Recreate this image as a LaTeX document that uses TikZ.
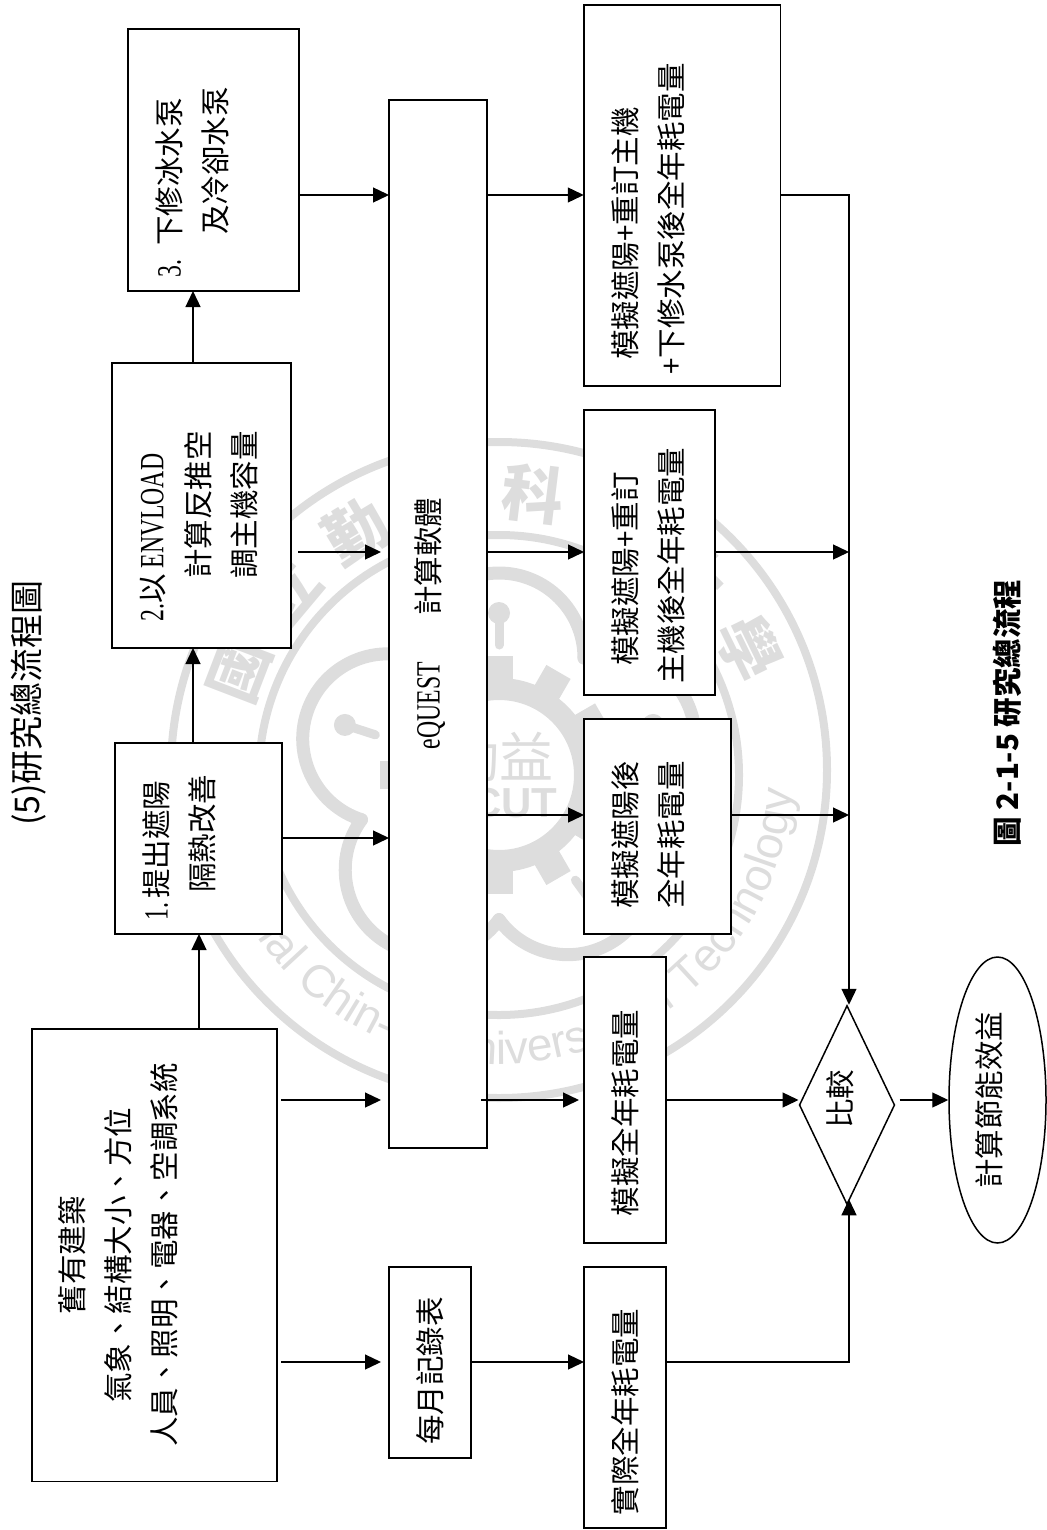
\documentclass[tikz,border=0pt]{standalone}
\usepackage{fontspec}
\setmainfont{Noto Sans CJK TC}
\setsansfont{Liberation Sans}
\newfontfamily\latinfont[Scale=1.15,FakeStretch=0.7]{Liberation Serif}
\usepackage{xcolor}
\definecolor{SealGray}{HTML}{DDDDDD}
\usetikzlibrary{arrows.meta,shapes.geometric,decorations.text,calc}

\begin{document}
\begin{tikzpicture}[
  x=1pt,y=1pt,
  >={Triangle[length=16pt,width=15pt]},
  flowbox/.style 2 args={draw,fill=white,line width=1.5pt,inner sep=0pt,outer sep=0pt,minimum width=#1pt,minimum height=#2pt},
  boxtext/.style={rotate=90,anchor=west,inner sep=0pt,align=left,font=\fontsize{29.5}{46}\selectfont},
  midtext/.style={boxtext,anchor=center,align=center},
  link/.style={line width=1.3pt},
  sealline/.style={draw=SealGray,line cap=round},
  sealtext/.style={text=SealGray,inner sep=0pt}
]
\useasboundingbox (0,0) rectangle (1046,-1530);

\begin{scope}[shift={(499,-775)}]
\draw[sealline,line width=8pt] (0,5) circle (328);
\draw[sealline,line width=8pt] (0,0) circle (240);
\foreach \ang in {18,90,162,234,306} {
  \draw[sealline,line width=13pt] (\ang:117) ++(\ang-90:85) arc[start angle=\ang-90,end angle=\ang+90,radius=85];
  \fill[SealGray] (\ang:162) circle (11);
  \draw[sealline,line width=9pt] (\ang:162) -- (\ang:130);
}
\draw[sealline,line width=22pt] (0,0) circle (86);
\foreach \ang in {0,30,...,330} {
  \fill[SealGray,rotate=\ang] (88,-14) rectangle (119,14);
}
\node[sealtext,font=\fontsize{54}{54}\selectfont] (sealname) at (0,18) {勤益};
\node[sealtext,font=\sffamily\bfseries\fontsize{42}{42}\selectfont] (sealabbr) at (0,-28) {NCUT};
\foreach \ch [count=\i from 0] in {國,立,勤,益,科,技,大,學} {
  \pgfmathsetmacro{\chang}{159-19*\i}
  \node[sealtext,font=\bfseries\fontsize{62}{62}\selectfont,rotate=\chang-90] (sealch\i) at ($(0,5)+(\chang:278)$) {\ch};
}
\path[decorate,decoration={text along path,text align=center,
  text={|\sffamily\fontsize{46}{46}\selectfont\color{SealGray}|National Chin-Yi University of Technology}}]
  (0,5) ++(190:294) arc[start angle=190,end angle=357,radius=294];
\end{scope}

\node[flowbox={171}{262}] (pump) at (213.5,-160) {};
\node[flowbox={179}{285}] (envload) at (201.5,-505.5) {};
\node[flowbox={167}{191}] (shading) at (198.5,-838.5) {};
\node[flowbox={245}{452.5}] (building) at (154.5,-1255) {};
\node[flowbox={98}{1048}] (equest) at (438,-624) {};
\node[flowbox={82}{191}] (monthly) at (430,-1362.5) {};
\node[flowbox={196.5}{381}] (simall) at (682,-195.5) {};
\node[flowbox={131}{285}] (simchiller) at (649.5,-552.5) {};
\node[flowbox={147}{215}] (simshade) at (657.5,-826.5) {};
\node[flowbox={82}{286}] (simbase) at (625,-1100) {};
\node[flowbox={82}{261}] (actual) at (625,-1397.5) {};
\node[diamond,draw,fill=white,line width=1.5pt,inner sep=0pt,minimum width=95.5pt,minimum height=199pt] (compare) at (847,-1105) {};
\node[ellipse,draw,fill=white,line width=1.5pt,inner sep=0pt,minimum width=97pt,minimum height=286pt] (benefit) at (997.5,-1100) {};

\node[boxtext] (pumptext) at (192.5,-278) {{\latinfont 3.}\hspace{14pt}下修冰水泵\\\hspace*{43pt}及冷卻水泵};
\node[boxtext] (envloadtext) at (199,-622) {{\latinfont 2.}以\hspace{6pt}{\latinfont ENVLOAD}\\\hspace*{43pt}計算反推空\\\hspace*{43pt}調主機容量};
\node[boxtext] (shadingtext) at (179.5,-921) {{\latinfont 1.}\hspace{4pt}提出遮陽\\\hspace*{28pt}隔熱改善};
\node[midtext] (buildingtext) at (118,-1255) {舊有建築\\氣象、結構大小、方位\\人員、照明、電器、空調系統};
\node[midtext] (equesttext) at (430,-623.5) {{\latinfont eQUEST}\hspace{46pt}計算軟體};
\node[midtext] (monthlytext) at (430,-1371) {每月記錄表};
\node[boxtext] (simalltext) at (648,-375) {\hspace*{15pt}模擬遮陽+重訂主機\\+下修水泵後全年耗電量};
\node[boxtext] (simchillertext) at (648,-684) {\hspace*{18pt}模擬遮陽+重訂\\主機後全年耗電量};
\node[midtext] (simshadetext) at (648,-835) {模擬遮陽後\\全年耗電量};
\node[midtext] (simbasetext) at (625,-1113) {模擬全年耗電量};
\node[midtext] (actualtext) at (625,-1412) {實際全年耗電量};
\node[midtext] (comparetext) at (840,-1099) {比較};
\node[midtext] (benefittext) at (989.5,-1100) {計算節能效益};
\node[midtext,font=\fontsize{34}{46}\selectfont] (pagetitle) at (28,-703) {(5)研究總流程圖};
\node[midtext,font=\bfseries\fontsize{29.5}{46}\selectfont] (caption) at (1007,-713) {圖 2-1-5 研究總流程};

\coordinate (rowa) at (0,-195);
\coordinate (rowb) at (0,-552);
\coordinate (rowc) at (0,-815);
\coordinate (rowd) at (0,-838);
\coordinate (rowe) at (0,-1100);
\coordinate (rowf) at (0,-1362);
\coordinate (trunk) at (849,0);
\coordinate (colup) at (193,0);
\coordinate (colold) at (199,0);

\draw[->,link] (building.north -| colold) -- (shading.south -| colold);
\draw[->,link] (shading.north -| colup) -- (envload.south -| colup);
\draw[->,link] (envload.north -| colup) -- (pump.south -| colup);
\draw[->,link] (pump.east |- rowa) -- (equest.west |- rowa);
\draw[->,link] ([xshift=7]envload.east |- rowb) -- ([xshift=-8]equest.west |- rowb);
\draw[->,link] (shading.east |- rowd) -- (equest.west |- rowd);
\draw[->,link] ([xshift=4]building.east |- rowe) -- ([xshift=-8]equest.west |- rowe);
\draw[->,link] ([xshift=4]building.east |- rowf) -- ([xshift=-8]monthly.west |- rowf);
\draw[->,link] (monthly.east |- rowf) -- (actual.west |- rowf);
\draw[->,link] (equest.east |- rowa) -- (simall.west |- rowa);
\draw[->,link] (equest.east |- rowb) -- (simchiller.west |- rowb);
\draw[->,link] (equest.east |- rowc) -- (simshade.west |- rowc);
\draw[->,link] ([xshift=-6]equest.east |- rowe) -- ([xshift=-5]simbase.west |- rowe);
\draw[->,link] (simall.east |- rowa) -| (trunk |- compare.north);
\draw[->,link] (simchiller.east |- rowb) -- (trunk |- rowb);
\draw[->,link] (simshade.east |- rowc) -- (trunk |- rowc);
\draw[->,link] (simbase.east |- rowe) -- (compare.west |- rowe);
\draw[->,link] (actual.east |- rowf) -| ([yshift=6]trunk |- compare.south);
\draw[->,link] ([xshift=4]compare.east |- rowe) -- (benefit.west |- rowe);
\end{tikzpicture}
\end{document}
